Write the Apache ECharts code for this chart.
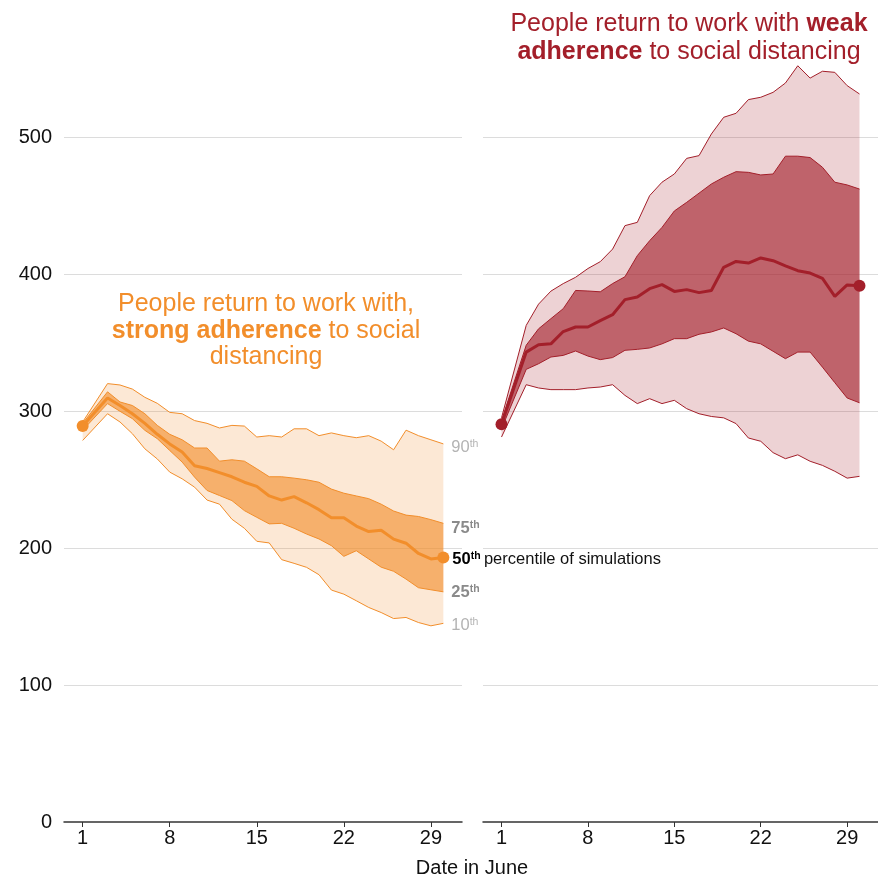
<!DOCTYPE html>
<html><head><meta charset="utf-8">
<script src="https://cdn.jsdelivr.net/npm/echarts@6/dist/echarts.min.js"></script>
<style>html,body{margin:0;padding:0;background:#fff}#c{width:878px;height:878px}</style>
</head><body><div id="c"></div>
<script>
// Days in June with a simulation value (June 2 has no point in the picture)
const days = [1,3,4,5,6,7,8,9,10,11,12,13,14,15,16,17,18,19,20,21,22,23,24,25,26,27,28,29,30];
const xTickDays = [1, 8, 15, 22, 29];

// Strong adherence (left panel) percentiles
const strongP90 = [292,320,319,316,310,305.6,299,298,293,291,287.6,289.5,289,281,282,281,287,287,282,284,282,280.5,282,278,271.7,286,282,279,276];
const strongP75 = [291,314,306.6,304,298,289.5,283,279,273,273,263.4,264.4,263.4,257.8,252,252,251,249.8,248,243,240,238,236,232,227,224,223,220.7,218];
const strongP50 = [289,309.5,304,298,291,283,276,270,260,258,255,252,248,245,238,235,237.5,233,228,222,222,216,212,213,206.5,203.5,196,192,193];
const strongP25 = [286,305.4,299.8,294.4,285.9,279.8,271.2,262.7,251.7,242,238.3,234.6,227.3,222.4,217.6,218,214.4,210.2,206.6,201.7,193.9,198,192,186,183,177.3,171,169.5,168];
const strongP10 = [278.5,298,292,283.4,272.4,265,255.4,250.5,244.4,235,232,221,214.4,204.9,203.7,191.5,188.8,185.9,180.5,169.3,166.3,161.5,156.6,152.9,148.5,149.3,145.6,143.2,145];

// Weak adherence (right panel) percentiles
const weakP90 = [295,362.5,378,387.5,393,397.6,404,409,418.2,435.3,437.7,457.2,467,473,484.4,486.4,502.2,514.4,517.3,527.3,529,532.6,539.4,552,543,548,547.2,537.5,531.4];
const weakP75 = [293,348,360,367.4,374.7,388,387.6,387,393,398,413.4,424.3,434,446,452.3,459,465.7,470.6,474.7,474.2,472.3,473,486,486,485,477.9,467,465,462];
const weakP50 = [290.3,343,348.4,349,358,361.3,361.3,366,370.3,381.3,383.2,389.3,392.2,387.3,388.6,386.4,388,404.9,409.2,408,411.7,409.7,406,402.4,400.7,396.8,383.7,392,391.5];
const weakP25 = [287,330.4,334.5,339.4,340.6,343.8,340.1,337.5,339,344.3,345,346,349,352.8,352.8,356,357.7,360.6,356.4,351,349,343.6,338.2,343,343,332,320.7,309.5,306];
const weakP10 = [281,319.2,316.8,315.6,315.6,315.6,316.8,317.5,319.2,311.4,305.4,309,305.4,307.8,301.7,298,296,295,290.8,280.3,277.9,269.6,265.2,268,263.3,260.3,256,251,252.3];

const FONT = '"Liberation Sans", Arial, Helvetica, sans-serif';
const ORANGE = '#f28e2b';
const RED = '#a31f2a';

function pairs(arr) { return days.map((d, i) => [d, arr[i]]); }
function band(lo, hi) { return days.map((d, i) => [d, lo[i], hi[i]]); }

function bandSeries(idx, lo, hi, fill) {
  return {
    type: 'custom', xAxisIndex: idx, yAxisIndex: idx, silent: true, z: 2,
    encode: { x: 0, y: [1, 2] },
    data: band(lo, hi),
    renderItem: function (params, api) {
      if (params.dataIndex !== 0) return null;
      const n = params.dataInsideLength;
      const top = [], bot = [];
      for (let j = 0; j < n; j++) {
        top.push(api.coord([api.value(0, j), api.value(2, j)]));
        bot.push(api.coord([api.value(0, j), api.value(1, j)]));
      }
      return { type: 'polygon', shape: { points: top.concat(bot.reverse()) }, style: { fill: fill } };
    }
  };
}

const supRich = (color, weight) => ({
  n: { fontFamily: FONT, fontSize: 16.5, color: color, fontWeight: weight, lineHeight: 18 },
  s: { fontFamily: FONT, fontSize: 10.5, color: color, fontWeight: weight, lineHeight: 10, verticalAlign: 'top' }
});

function edgeSeries(idx, arr, color, label) {
  const s = {
    type: 'line', xAxisIndex: idx, yAxisIndex: idx, data: pairs(arr), symbol: 'none',
    lineStyle: { color: color, width: 1 }, z: 3, silent: true
  };
  if (label) {
    s.endLabel = {
      show: true, distance: 8, offset: [0, label.dy],
      formatter: '{n|' + label.num + '}{s|th}',
      rich: supRich(label.color, label.weight)
    };
  }
  return s;
}

function medianSeries(idx, arr, color, withLabel) {
  const last = arr.length - 1;
  const s = {
    type: 'line', xAxisIndex: idx, yAxisIndex: idx, data: pairs(arr),
    symbol: 'circle', showSymbol: true,
    symbolSize: (v, p) => (p.dataIndex === 0 || p.dataIndex === last) ? 12 : 0,
    itemStyle: { color: color }, lineStyle: { color: color, width: 3 }, z: 4, silent: true
  };
  if (withLabel) {
    s.endLabel = {
      show: true, distance: 9, offset: [0, 2],
      formatter: '{b|50}{s|th} {t|percentile of simulations}',
      rich: {
        b: { fontFamily: FONT, fontSize: 16.5, fontWeight: 'bold', color: '#000', lineHeight: 18 },
        s: { fontFamily: FONT, fontSize: 10.5, fontWeight: 'bold', color: '#000', lineHeight: 10, verticalAlign: 'top' },
        t: { fontFamily: FONT, fontSize: 16.5, color: '#111', lineHeight: 18 }
      }
    };
  }
  return s;
}

const xAxisBase = (idx) => ({
  type: 'value', gridIndex: idx, min: -0.5, max: 31.5,
  axisLine: { show: true, onZero: false, lineStyle: { color: '#333', width: 1.5 } },
  axisTick: { show: true, length: 5, lineStyle: { color: '#333', width: 1 }, customValues: xTickDays },
  axisLabel: { show: true, customValues: xTickDays, fontFamily: FONT, fontSize: 20, color: '#111', margin: 6 },
  splitLine: { show: false }
});
const yAxisBase = (idx, showLabels) => ({
  type: 'value', gridIndex: idx, min: 0, max: 600, interval: 100,
  axisLine: { show: false }, axisTick: { show: false },
  axisLabel: { show: showLabels, showMaxLabel: false, fontFamily: FONT, fontSize: 20, color: '#111', margin: 12 },
  splitLine: { show: true, showMaxLine: false, showMinLine: false, lineStyle: { color: '#dcdcdc', width: 1 } }
});

const chart = echarts.init(document.getElementById('c'), null, { renderer: 'canvas' });
chart.setOption({
  animation: false,
  backgroundColor: '#fff',
  grid: [
    { left: 64, width: 398, top: 0, bottom: 56 },
    { left: 483, width: 398, top: 0, bottom: 56 }
  ],
  xAxis: [xAxisBase(0), xAxisBase(1)],
  yAxis: [yAxisBase(0, true), yAxisBase(1, false)],
  series: [
    bandSeries(0, strongP10, strongP90, 'rgba(242,142,43,0.2)'),
    bandSeries(0, strongP25, strongP75, 'rgba(242,142,43,0.62)'),
    edgeSeries(0, strongP90, ORANGE, { num: '90', color: '#b3b3b3', weight: 'normal', dy: 4 }),
    edgeSeries(0, strongP75, ORANGE, { num: '75', color: '#8a8a8a', weight: 'bold', dy: 5 }),
    edgeSeries(0, strongP25, ORANGE, { num: '25', color: '#8a8a8a', weight: 'bold', dy: 1 }),
    edgeSeries(0, strongP10, ORANGE, { num: '10', color: '#b3b3b3', weight: 'normal', dy: 2 }),
    medianSeries(0, strongP50, ORANGE, true),
    bandSeries(1, weakP10, weakP90, 'rgba(163,31,42,0.2)'),
    bandSeries(1, weakP25, weakP75, 'rgba(163,31,42,0.62)'),
    edgeSeries(1, weakP90, RED, null),
    edgeSeries(1, weakP75, RED, null),
    edgeSeries(1, weakP25, RED, null),
    edgeSeries(1, weakP10, RED, null),
    medianSeries(1, weakP50, RED, false)
  ],
  graphic: [
    {
      type: 'text', x: 689, y: 38, z: 10,
      style: {
        text: '{r|People return to work with }{b|weak}\n{b|adherence}{r| to social distancing}',
        align: 'center', verticalAlign: 'middle', fill: RED,
        rich: {
          r: { fontFamily: FONT, fontSize: 25, fill: RED, lineHeight: 28 },
          b: { fontFamily: FONT, fontSize: 25, fill: RED, fontWeight: 'bold', lineHeight: 28 }
        }
      }
    },
    {
      type: 'text', x: 266, y: 331, z: 10,
      style: {
        text: '{r|People return to work with,}\n{b|strong adherence}{r| to social}\n{r|distancing}',
        align: 'center', verticalAlign: 'middle', fill: ORANGE,
        rich: {
          r: { fontFamily: FONT, fontSize: 25, fill: ORANGE, lineHeight: 26.5 },
          b: { fontFamily: FONT, fontSize: 25, fill: ORANGE, fontWeight: 'bold', lineHeight: 26.5 }
        }
      }
    },
    {
      type: 'text', x: 472, y: 868, z: 10,
      style: { text: 'Date in June', align: 'center', verticalAlign: 'middle', fontFamily: FONT, fontSize: 20, fill: '#111' }
    }
  ]
});
</script>
</body></html>
